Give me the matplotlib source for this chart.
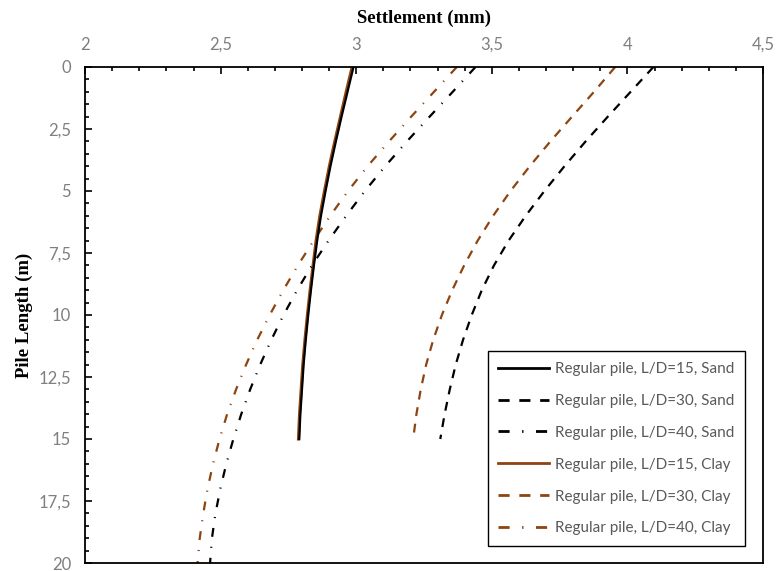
import matplotlib
matplotlib.use("Agg")
import matplotlib.pyplot as plt
from matplotlib.ticker import FuncFormatter, MultipleLocator

# settlement (mm) at each pile depth (m)
depth_15 = [0, 1, 2, 3, 4, 5, 6, 7, 8, 9, 10, 11, 12, 13, 14, 15]
sand_15 = [2.990, 2.968, 2.946, 2.925, 2.905, 2.887, 2.870, 2.856,
           2.844, 2.833, 2.823, 2.814, 2.806, 2.800, 2.794, 2.790]
clay_15 = [2.985, 2.963, 2.942, 2.921, 2.901, 2.883, 2.866, 2.852,
           2.841, 2.830, 2.820, 2.811, 2.803, 2.797, 2.791, 2.787]

depth_30 = [0, 1, 2, 3, 4, 5, 6, 7, 8, 9, 10, 11, 12, 13, 14, 15]
sand_30 = [4.096, 4.012, 3.928, 3.846, 3.768, 3.694, 3.625, 3.562,
           3.508, 3.463, 3.426, 3.394, 3.367, 3.345, 3.326, 3.310]
clay_30 = [3.955, 3.877, 3.796, 3.716, 3.640, 3.569, 3.505, 3.448,
           3.398, 3.354, 3.316, 3.284, 3.258, 3.238, 3.222, 3.210]

depth_40 = [0, 1, 2, 3, 4, 5, 6, 7, 8, 9, 10, 11, 12, 13, 14, 15,
            16, 17, 18, 19, 20]
sand_40 = [3.440, 3.356, 3.271, 3.187, 3.107, 3.032, 2.963, 2.898,
           2.837, 2.782, 2.732, 2.687, 2.646, 2.609, 2.576, 2.547,
           2.521, 2.499, 2.481, 2.468, 2.461]
clay_40 = [3.371, 3.287, 3.203, 3.121, 3.042, 2.970, 2.904, 2.843,
           2.785, 2.731, 2.681, 2.635, 2.594, 2.557, 2.524, 2.496,
           2.472, 2.452, 2.436, 2.423, 2.415]

labels = [
    "Regular pile, L/D=15, Sand",
    "Regular pile, L/D=30, Sand",
    "Regular pile, L/D=40, Sand",
    "Regular pile, L/D=15, Clay",
    "Regular pile, L/D=30, Clay",
    "Regular pile, L/D=40, Clay",
]

BLACK = "#000000"
BROWN = "#8E4411"
DASH = (0, (4, 3.5))
DASHDOT = (0, (4, 4.5, 0.5, 4.5))

fig = plt.figure(figsize=(7.78, 5.71), dpi=100)
ax = fig.add_axes([0.1093, 0.0140, 0.8714, 0.8687])

lw = 1.6
ax.plot(clay_15, depth_15, color=BROWN, lw=2.2, zorder=2)
ax.plot(sand_15, depth_15, color=BLACK, lw=lw, zorder=3)
ax.plot(sand_30, depth_30, color=BLACK, lw=lw, ls=DASH)
ax.plot(sand_40, depth_40, color=BLACK, lw=lw, ls=DASHDOT)
ax.plot(clay_30, depth_30, color=BROWN, lw=lw, ls=DASH)
ax.plot(clay_40, depth_40, color=BROWN, lw=lw, ls=DASHDOT)

ax.set_xlim(2, 4.5)
ax.set_ylim(20, 0)
ax.xaxis.tick_top()
ax.xaxis.set_label_position("top")
ax.xaxis.set_major_locator(MultipleLocator(0.5))
ax.xaxis.set_minor_locator(MultipleLocator(0.1))
ax.yaxis.set_major_locator(MultipleLocator(2.5))
ax.yaxis.set_minor_locator(MultipleLocator(0.5))
comma = FuncFormatter(lambda v, _: f"{v:g}".replace(".", ","))
ax.xaxis.set_major_formatter(comma)
ax.yaxis.set_major_formatter(comma)

ax.tick_params(which="both", direction="in", width=1.2, colors="black",
               labelcolor="#7f7f7f", labelsize=12)
ax.tick_params(which="major", length=5)
ax.tick_params(which="minor", length=3)
ax.tick_params(axis="x", pad=10)
ax.tick_params(axis="y", pad=10)
for lab in ax.get_xticklabels() + ax.get_yticklabels():
    lab.set_family("Lato")
for sp in ax.spines.values():
    sp.set_linewidth(1.3)

ax.set_xlabel("Settlement (mm)", family="Liberation Serif", weight="bold",
              fontsize=13.5, labelpad=10)
ax.set_ylabel("Pile Length (m)", family="Liberation Serif", weight="bold",
              fontsize=13.5, labelpad=4)

handles = []
for c, s in [(BLACK, "-"), (BLACK, DASH), (BLACK, DASHDOT),
             (BROWN, "-"), (BROWN, DASH), (BROWN, DASHDOT)]:
    h, = ax.plot([], [], color=c, lw=2, ls=s)
    handles.append(h)
leg = ax.legend(handles, labels, loc="lower right",
                bbox_to_anchor=(0.9735, 0.034), borderaxespad=0,
                fancybox=False, framealpha=1,
                edgecolor="black", prop={"family": "Lato", "size": 11},
                handlelength=3.3, handletextpad=0.4, labelspacing=1.17,
                borderpad=0.7)
leg.get_frame().set_linewidth(1.0)
for t in leg.get_texts():
    t.set_color("#595959")

fig.savefig("out.png", dpi=100)
